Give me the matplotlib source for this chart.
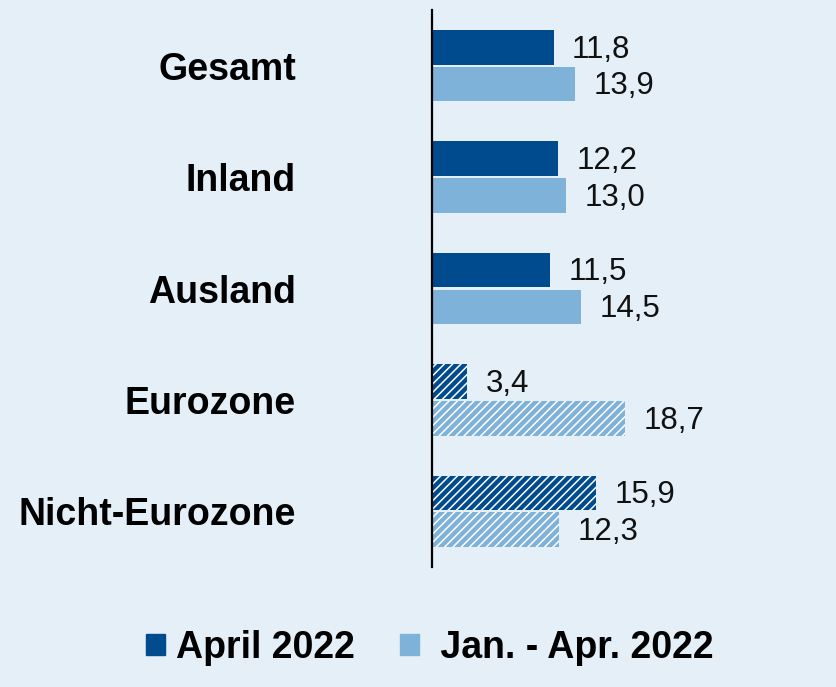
import matplotlib.pyplot as plt
import numpy as np
from matplotlib.patches import Patch

plt.rcParams['font.family'] = ['Liberation Sans', 'DejaVu Sans']

# Data
categories = ["Gesamt", "Inland", "Ausland", "Eurozone", "Nicht-Eurozone"]
april = [11.8, 12.2, 11.5, 3.4, 15.9]
jan_apr = [13.9, 13.0, 14.5, 18.7, 12.3]
hatched = [False, False, False, True, True]
series_names = ["April 2022", " Jan. - Apr. 2022"]

bg = "#e4eff7"
dark = "#004b8d"
light = "#7fb2d8"

W, H = 836, 687
fig = plt.figure(figsize=(W / 100, H / 100), dpi=100)
fig.patch.set_facecolor(bg)

ax_left = 432 / W
ax_right = 0.985
ax_top = 1 - 10 / H
ax_bottom = 1 - 567 / H
ax = fig.add_axes([ax_left, ax_bottom, ax_right - ax_left, ax_top - ax_bottom])
ax.set_facecolor(bg)

px_per_unit = 10.3
ax.set_xlim(0, (ax_right * W - 432) / px_per_unit)
ax.set_ylim(len(categories) - 0.5, -0.5)

plt.rcParams['hatch.linewidth'] = 1.1
y = np.arange(len(categories))
h = 0.31
off = 0.165
for i in range(len(categories)):
    hatch = "////" if hatched[i] else None
    for val, yy, col in [(april[i], y[i] - off, dark), (jan_apr[i], y[i] + off, light)]:
        ax.barh(yy, val, height=h, color=col, edgecolor="white" if hatch else col,
                hatch=hatch, linewidth=0)
        ax.text(val + 1.8, yy + 0.02, f"{val:.1f}".replace(".", ","), va="center",
                ha="left", fontsize=22.5, color="#111111")

for s in ["top", "right", "bottom"]:
    ax.spines[s].set_visible(False)
ax.spines["left"].set_linewidth(1.6)
ax.spines["left"].set_color("black")
ax.set_xticks([])
ax.set_yticks(y)
ax.set_yticklabels(categories, fontsize=27, fontweight="bold")
ax.tick_params(axis="y", length=0, pad=98)

# Legend
handles = [Patch(facecolor=dark, edgecolor=dark), Patch(facecolor=light, edgecolor=light)]
leg = fig.legend(handles, series_names, loc="center", bbox_to_anchor=(430 / W, 1 - 648 / H),
                 ncol=2, frameon=False, prop={"size": 27, "weight": "bold"},
                 handlelength=0.5, handleheight=0.5, handletextpad=0.3, columnspacing=1.2)

plt.savefig("out.png", dpi=100, facecolor=bg)
